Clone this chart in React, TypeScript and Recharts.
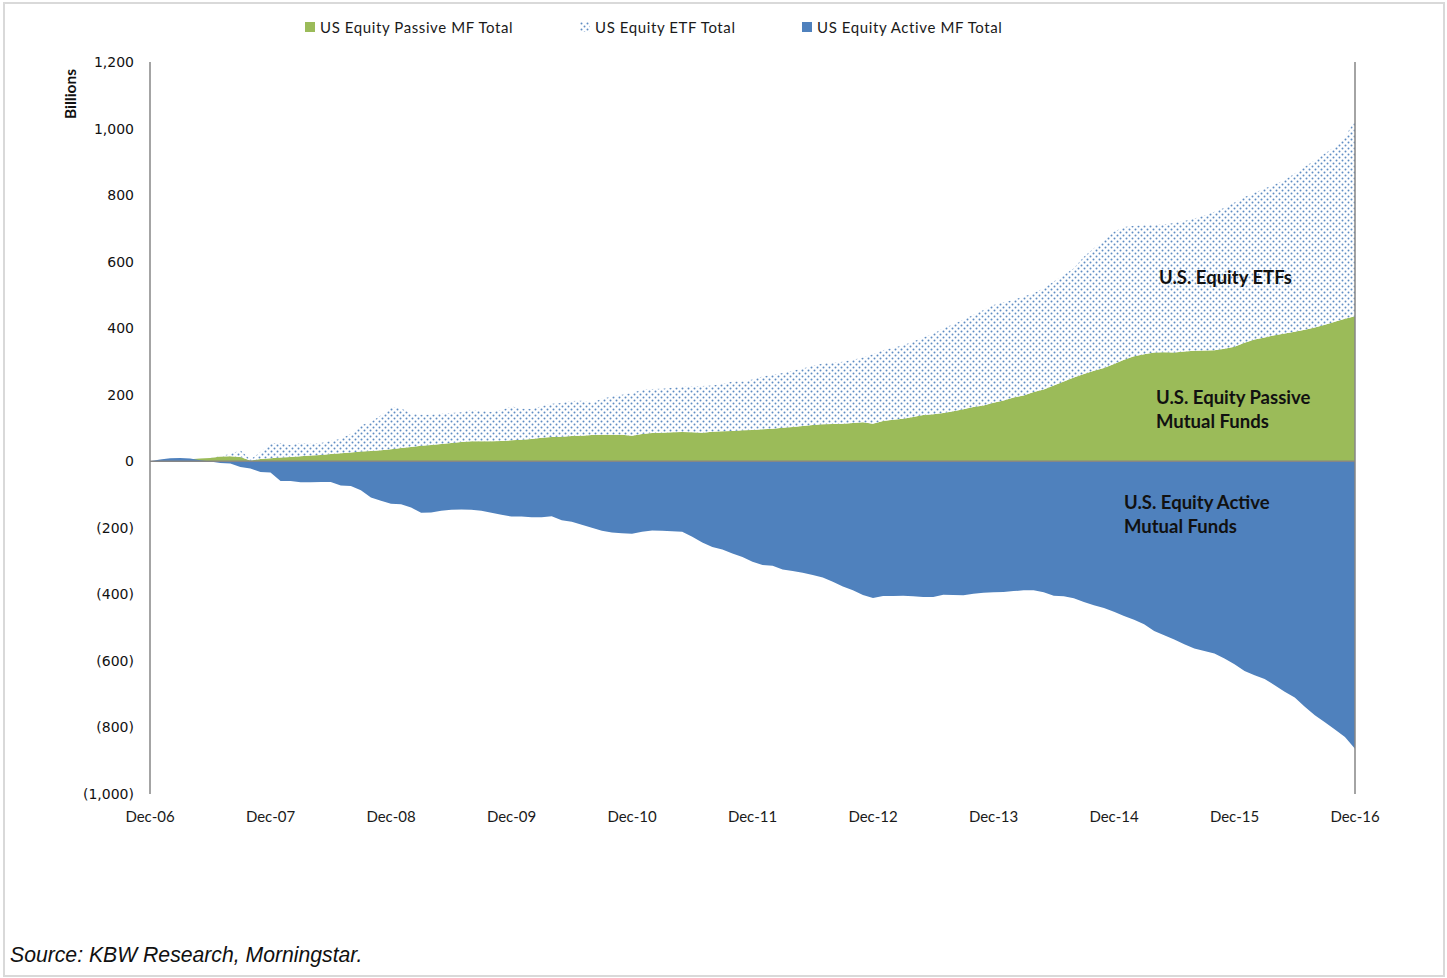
import React from 'react';
import { AreaChart, Area, XAxis, YAxis, ReferenceLine, Legend } from 'recharts';

const monthNames = ['Jan', 'Feb', 'Mar', 'Apr', 'May', 'Jun', 'Jul', 'Aug', 'Sep', 'Oct', 'Nov', 'Dec'];
const years = ['07', '08', '09', '10', '11', '12', '13', '14', '15', '16'];
const categories: string[] = ['Dec-06'];
years.forEach((y) => monthNames.forEach((m) => categories.push(`${m}-${y}`)));

const yTicks = [-1000, -800, -600, -400, -200, 0, 200, 400, 600, 800, 1000, 1200];

// US Equity Passive MF Total (billions, cumulative)
const passive = [
  0, 1, 2, 4, 6, 8, 10, 14, 15, 13, 2, 7,
  9, 11, 13, 15, 17, 19, 22, 24, 26, 29, 31, 33,
  36, 40, 43, 47, 49, 52, 55, 58, 60, 60, 60, 61,
  63, 65, 67, 71, 73, 74, 76, 77, 79, 80, 80, 80,
  77, 82, 85, 86, 87, 88, 87, 86, 89, 90, 91, 93,
  94, 96, 98, 101, 103, 106, 109, 111, 112, 113, 115, 117,
  113, 121, 125, 128, 133, 139, 141, 145, 150, 156, 163, 168,
  176, 183, 192, 198, 208, 216, 228, 240, 252, 262, 272, 280,
  292, 305, 316, 322, 327, 328, 327, 330, 332, 333, 334, 338,
  344, 356, 366, 372, 379, 384, 389, 395, 402, 410, 419, 428,
  436,
];

// US Equity ETF Total (billions, cumulative)
const etf = [
  0, 0, 0, 0, 0, 0, 0, 2, 7, 20, 3, 21,
  46, 44, 35, 40, 36, 36, 39, 44, 57, 79, 87, 105,
  126, 119, 100, 93, 91, 91, 90, 89, 93, 91, 88, 92,
  102, 93, 90, 94, 100, 101, 105, 105, 97, 108, 115, 120,
  128, 133, 132, 132, 134, 136, 138, 140, 139, 142, 149, 147,
  152, 159, 162, 164, 169, 173, 178, 183, 184, 186, 190, 195,
  209, 213, 216, 221, 227, 233, 242, 255, 262, 269, 277, 287,
  294, 295, 293, 297, 297, 304, 312, 320, 328, 353, 368, 385,
  398, 399, 392, 387, 383, 384, 389, 392, 398, 406, 416, 424,
  434, 438, 441, 448, 453, 461, 476, 490, 503, 515, 526, 547,
  589,
];

// US Equity Active MF Total (billions, cumulative)
const active = [
  0, 5, 9, 10, 8, 3, -1, -5, -7, -17, -22, -32,
  -34, -59, -59, -63, -63, -62, -62, -73, -74, -87, -109, -119,
  -128, -129, -139, -155, -154, -149, -146, -145, -146, -149, -155, -161,
  -166, -166, -168, -168, -165, -177, -182, -191, -200, -209, -214, -216,
  -218, -212, -208, -209, -210, -212, -227, -244, -258, -265, -277, -288,
  -302, -312, -314, -325, -330, -335, -342, -349, -362, -376, -388, -402,
  -411, -405, -405, -404, -406, -408, -408, -401, -402, -403, -398, -395,
  -394, -393, -390, -388, -388, -394, -404, -406, -412, -423, -433, -441,
  -452, -465, -476, -490, -510, -523, -536, -550, -563, -570, -578, -593,
  -610, -630, -643, -654, -673, -693, -710, -738, -763, -784, -806, -829,
  -864,
];

const data = categories.map((month, i) => ({
  month,
  passive: passive[i],
  etf: etf[i],
  active: active[i],
}));

const GREEN = '#9BBB59';
const BLUE = '#4F81BD';
const GRAY = '#868686';
const CAL = 'Lato, "Open Sans", sans-serif';

const fmt = (v: number) => {
  const s = Math.abs(v).toLocaleString('en-US');
  return v < 0 ? `(${s})` : s;
};

const legendItems = [
  { label: 'US Equity Passive MF Total', kind: 'green', left: 305 },
  { label: 'US Equity ETF Total', kind: 'dots', left: 580 },
  { label: 'US Equity Active MF Total', kind: 'blue', left: 802 },
];

const DotSwatch = () => (
  <svg width={10} height={10} style={{ position: 'absolute', left: 0, top: 0 }}>
    <rect x={0} y={0} width={10} height={10} fill="url(#etfDots)" />
  </svg>
);

const renderLegend = () => (
  <div style={{ position: 'relative', width: 1447, height: 20 }}>
    {legendItems.map((it) => (
      <div key={it.label} style={{ position: 'absolute', left: it.left, top: 0, height: 20 }}>
        {it.kind === 'dots' ? (
          <div style={{ position: 'absolute', left: 0, top: 5, width: 10, height: 10 }}>
            <DotSwatch />
          </div>
        ) : (
          <div
            style={{
              position: 'absolute',
              left: 0,
              top: 5,
              width: 10,
              height: 10,
              background: it.kind === 'green' ? GREEN : BLUE,
            }}
          />
        )}
        <span
          style={{
            position: 'absolute',
            left: 15,
            top: 0,
            whiteSpace: 'nowrap',
            fontFamily: CAL,
            fontSize: 15,
            lineHeight: '20px',
            color: '#1a1a1a',
            letterSpacing: 0.6,
          }}
        >
          {it.label}
        </span>
      </div>
    ))}
  </div>
);

const annStyle: React.CSSProperties = {
  position: 'absolute',
  fontFamily: CAL,
  fontWeight: 700,
  fontSize: 18.5,
  color: '#111',
  whiteSpace: 'nowrap',
};

export default function App() {
  return (
    <div style={{ position: 'absolute', left: 0, top: 0, width: 1447, height: 978, background: '#fff' }}>
      <div
        style={{
          position: 'absolute',
          left: 3,
          top: 2,
          width: 1438,
          height: 971,
          border: '2px solid #d9d9d9',
        }}
      />
      <div style={{ position: 'absolute', left: 0, top: 0 }}>
        <AreaChart
          width={1447}
          height={840}
          data={data}
          margin={{ top: 42, right: 92, bottom: 16, left: 0 }}
        >
          <defs>
            <pattern id="etfDots" width={6} height={6} patternUnits="userSpaceOnUse">
              <rect width={6} height={6} fill="#ffffff" />
              <circle cx={1.5} cy={1.5} r={1} fill={BLUE} fillOpacity={0.9} />
              <circle cx={4.5} cy={4.5} r={1} fill={BLUE} fillOpacity={0.9} />
            </pattern>
          </defs>
          <XAxis
            dataKey="month"
            interval={11}
            axisLine={false}
            tickLine={false}
            tickSize={0}
            tickMargin={17}
            height={30}
            tick={{ fontFamily: CAL, fontSize: 15, fill: '#1a1a1a' }}
          />
          <YAxis
            type="number"
            domain={[-1000, 1200]}
            ticks={yTicks}
            width={150}
            tickFormatter={fmt}
            axisLine={{ stroke: GRAY, strokeWidth: 1.5 }}
            tickLine={false}
            tickSize={0}
            tickMargin={16}
            interval={0}
            tick={{ fontFamily: '"DejaVu Sans", Verdana, sans-serif', fontSize: 14, fill: '#111' }}
            label={{
              content: () => (
                <text
                  x={70}
                  y={94}
                  transform="rotate(-90 70 94)"
                  textAnchor="middle"
                  dominantBaseline="central"
                  style={{ fontFamily: CAL, fontWeight: 700, fontSize: 15.5, fill: '#111' }}
                >
                  Billions
                </text>
              ),
            }}
          />
          <Legend verticalAlign="top" wrapperStyle={{ top: 17, left: 0 }} content={renderLegend} />
          <Area
            type="linear"
            dataKey="passive"
            name="US Equity Passive MF Total"
            stackId="pos"
            stroke="none"
            fill={GREEN}
            fillOpacity={1}
            isAnimationActive={false}
          />
          <Area
            type="linear"
            dataKey="etf"
            name="US Equity ETF Total"
            stackId="pos"
            stroke="none"
            fill="url(#etfDots)"
            fillOpacity={1}
            isAnimationActive={false}
          />
          <Area
            type="linear"
            dataKey="active"
            name="US Equity Active MF Total"
            baseValue={0}
            stroke="none"
            fill={BLUE}
            fillOpacity={1}
            isAnimationActive={false}
          />
          <ReferenceLine y={0} stroke={GRAY} strokeWidth={1.5} />
          <ReferenceLine x="Dec-16" stroke={GRAY} strokeWidth={1.5} />
        </AreaChart>
      </div>
      <div style={{ ...annStyle, left: 1159, top: 265, lineHeight: '24px' }}>U.S. Equity ETFs</div>
      <div style={{ ...annStyle, left: 1156, top: 385, lineHeight: '24px' }}>
        U.S. Equity Passive
        <br />
        Mutual Funds
      </div>
      <div style={{ ...annStyle, left: 1124, top: 490, lineHeight: '24px' }}>
        U.S. Equity Active
        <br />
        Mutual Funds
      </div>
      <div
        style={{
          position: 'absolute',
          left: 10,
          top: 943,
          fontFamily: '"Liberation Sans", Arial, sans-serif',
          fontStyle: 'italic',
          fontSize: 21.2,
          lineHeight: '24px',
          color: '#111',
          whiteSpace: 'nowrap',
        }}
      >
        Source: KBW Research, Morningstar.
      </div>
    </div>
  );
}
